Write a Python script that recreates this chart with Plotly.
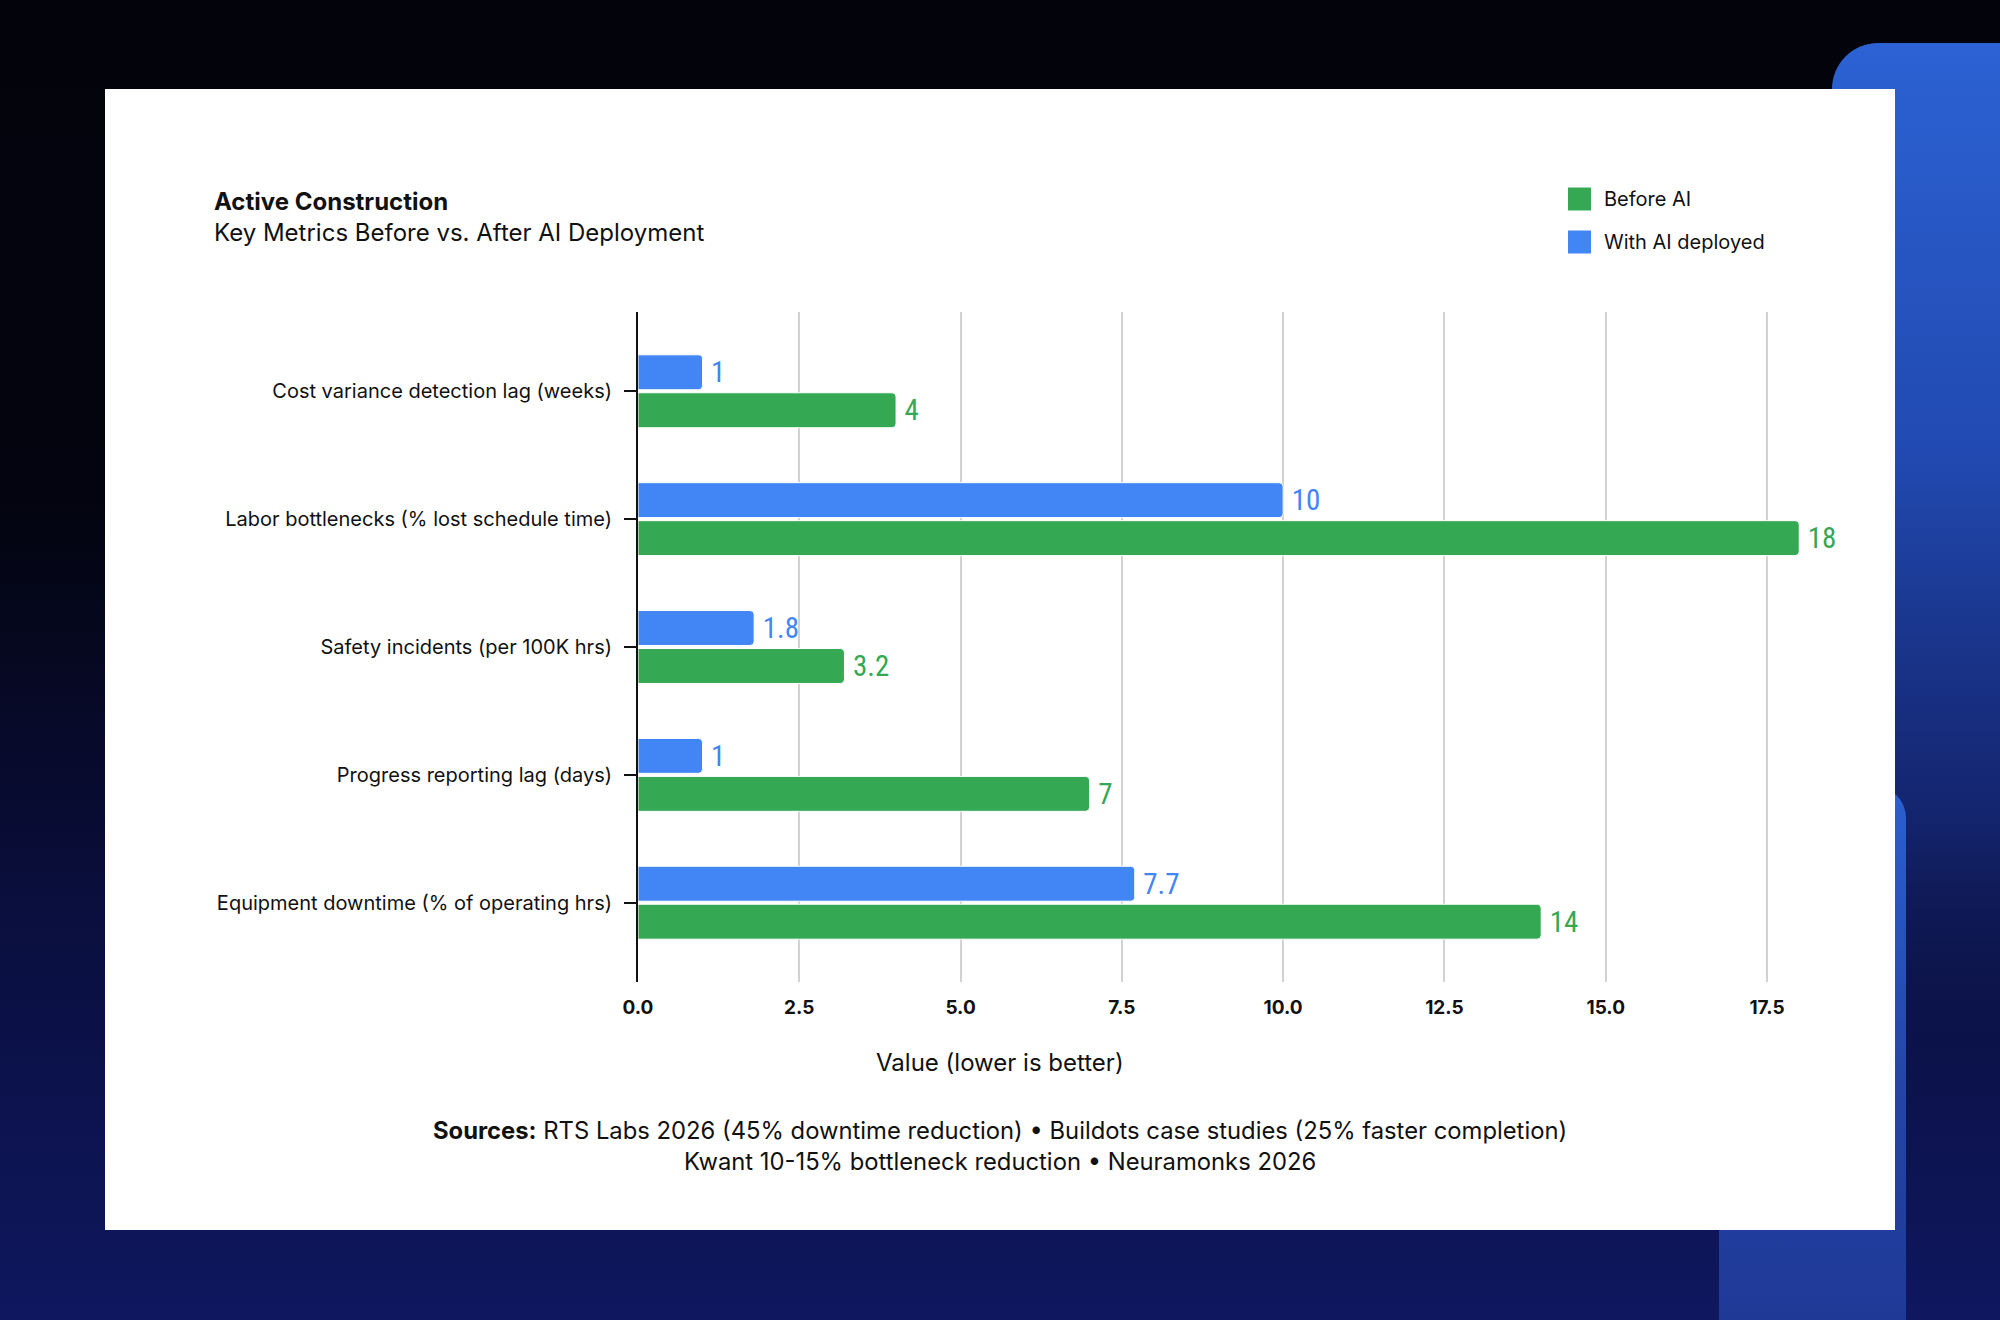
import base64
import plotly.graph_objects as go

# ---------------- data ----------------
categories = [
    "Cost variance detection lag (weeks)",
    "Labor bottlenecks (% lost schedule time)",
    "Safety incidents (per 100K hrs)",
    "Progress reporting lag (days)",
    "Equipment downtime (% of operating hrs)",
]
before_ai = [4, 18, 3.2, 7, 14]
with_ai = [1, 10, 1.8, 1, 7.7]
x_ticks = [0, 2.5, 5, 7.5, 10, 12.5, 15, 17.5]
series_names = ["Before AI", "With AI deployed"]

GREEN = "#34a853"
BLUE = "#4285f4"
W, H = 2000, 1320
FONT = "Inter, 'Noto Sans', sans-serif"
NUM_FONT = "'Roboto Condensed', 'Liberation Sans Narrow', Roboto, sans-serif"


def px(x):
    return x / W


def py(y):
    return 1 - y / H


# ---------------- background (svg) ----------------
svg = f"""<svg xmlns='http://www.w3.org/2000/svg' width='{W}' height='{H}' viewBox='0 0 {W} {H}'>
<defs>
<linearGradient id='bg' x1='0' y1='0' x2='0' y2='1'>
<stop offset='0' stop-color='#02030b'/>
<stop offset='0.38' stop-color='#03040f'/>
<stop offset='0.7' stop-color='#0a0f3f'/>
<stop offset='1' stop-color='#0f175f'/>
</linearGradient>
<linearGradient id='s1' x1='0' y1='0' x2='0' y2='1'>
<stop offset='0' stop-color='#2c62d4' stop-opacity='1'/>
<stop offset='0.3' stop-color='#2149b0' stop-opacity='1'/>
<stop offset='0.55' stop-color='#16297a' stop-opacity='0.85'/>
<stop offset='0.75' stop-color='#0c1445' stop-opacity='0'/>
</linearGradient>
<linearGradient id='s2' x1='0' y1='0' x2='0' y2='1'>
<stop offset='0' stop-color='#2b5fd2'/>
<stop offset='0.45' stop-color='#2446a8'/>
<stop offset='1' stop-color='#1d338f'/>
</linearGradient>
</defs>
<rect x='0' y='0' width='{W}' height='{H}' fill='url(#bg)'/>
<rect x='1832' y='43' width='260' height='1400' rx='46' ry='46' fill='url(#s1)'/>
<rect x='1719' y='786' width='187' height='640' rx='32' ry='32' fill='url(#s2)'/>
<rect x='105' y='89' width='1790' height='1141' fill='#ffffff'/>
</svg>"""
bg_uri = "data:image/svg+xml;base64," + base64.b64encode(svg.encode()).decode()

# ---------------- figure ----------------
fig = go.Figure()
for name, vals, color in [(series_names[0], before_ai, GREEN), (series_names[1], with_ai, BLUE)]:
    fig.add_trace(
        go.Bar(
            name=name,
            y=categories,
            x=vals,
            orientation="h",
            marker=dict(color=color, line=dict(color="#ffffff", width=1), cornerradius=4),
            text=[f"\u2009{v:g}" for v in vals],
            texttemplate="%{text}",
            textposition="outside",
            constraintext="none",
            cliponaxis=False,
            textfont=dict(family=NUM_FONT, size=29, color=color, weight=400),
            showlegend=False,
        )
    )

# plot area in pixels: x 638..(0->19 units), y 312..982
x_left = 638
unit = (1767 - 638) / 17.5
x_max = 19
x_right = x_left + unit * x_max

fig.update_layout(
    width=W,
    height=H,
    autosize=False,
    margin=dict(l=0, r=0, t=0, b=0, pad=0, autoexpand=False),
    paper_bgcolor="#03040e",
    plot_bgcolor="rgba(0,0,0,0)",
    barmode="group",
    bargap=0.406,
    bargroupgap=0.08,
    font=dict(family=FONT, color="#111111"),
    showlegend=False,
    title=dict(
        text="<span style='font-size:24px'><b>Active Construction</b></span><br>Key Metrics Before vs. After AI Deployment",
        font=dict(family=FONT, size=24, color="#111111"),
        x=px(214),
        xanchor="left",
        xref="paper",
        y=py(210),
        yanchor="middle",
        yref="paper",
        automargin=False,
    ),
    xaxis=dict(
        domain=[px(x_left), px(x_right)],
        range=[0, x_max],
        tickvals=x_ticks,
        tickformat=".1f",
        showgrid=True,
        gridcolor="#d2d2d2",
        gridwidth=2,
        zeroline=False,
        showline=False,
        ticks="",
        ticklabelstandoff=12,
        automargin=False,
        tickfont=dict(family=FONT, size=19, color="#111111", weight="bold"),
    ),
    yaxis=dict(
        domain=[py(982), py(312)],
        categoryorder="array",
        categoryarray=categories[::-1],
        range=[-0.62, 4.62],
        showgrid=False,
        zeroline=False,
        showline=True,
        linecolor="#111111",
        linewidth=2,
        ticks="outside",
        ticklen=12,
        tickwidth=2,
        tickcolor="#111111",
        ticklabelstandoff=8,
        automargin=False,
        tickfont=dict(family=FONT, size=20, color="#111111"),
    ),
    images=[
        dict(
            source=bg_uri,
            xref="paper",
            yref="paper",
            x=0,
            y=1,
            sizex=1,
            sizey=1,
            xanchor="left",
            yanchor="top",
            sizing="stretch",
            layer="below",
        )
    ],
)

annotations = [
    dict(
        text="Value (lower is better)",
        x=px(1000), y=py(1062), xref="paper", yref="paper",
        showarrow=False, xanchor="center", yanchor="middle",
        font=dict(family=FONT, size=24, color="#111111"),
    ),
    dict(
        text="<b>Sources:</b> RTS Labs 2026 (45% downtime reduction) • Buildots case studies (25% faster completion)<br>Kwant 10-15% bottleneck reduction • Neuramonks 2026",
        x=px(1000), y=py(1146), xref="paper", yref="paper",
        showarrow=False, xanchor="center", yanchor="middle", align="center",
        font=dict(family=FONT, size=23.8, color="#111111"),
    ),
]
shapes = []
legend_rows = [(series_names[0], GREEN, 199), (series_names[1], BLUE, 242)]
for name, color, cy in legend_rows:
    shapes.append(
        dict(
            type="rect", xref="paper", yref="paper",
            x0=px(1568), x1=px(1591), y0=py(cy - 11.5), y1=py(cy + 11.5),
            fillcolor=color, line=dict(width=0), layer="above",
        )
    )
    annotations.append(
        dict(
            text=name, x=px(1602), y=py(cy), xref="paper", yref="paper",
            showarrow=False, xanchor="left", yanchor="middle",
            font=dict(family=FONT, size=20, color="#111111"),
        )
    )
fig.update_layout(annotations=annotations, shapes=shapes)

fig.write_html("out.html", config={"displayModeBar": False})
